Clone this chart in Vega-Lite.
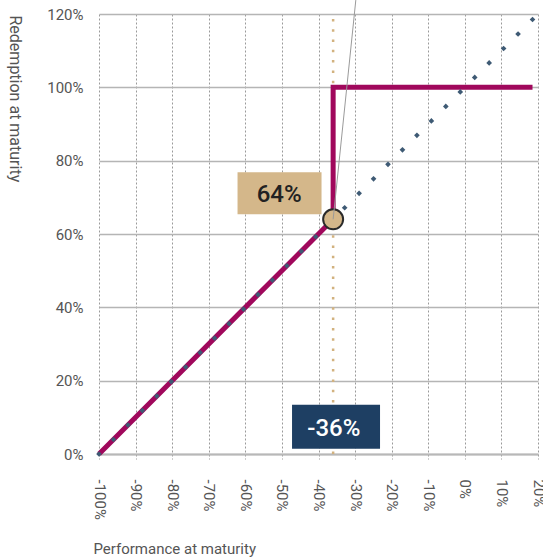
{
  "$schema": "https://vega.github.io/schema/vega-lite/v6.json",
  "width": 439,
  "height": 440,
  "autosize": {"type": "none"},
  "padding": {"left": 99, "top": 14, "right": 5, "bottom": 104},
  "config": {"view": {"stroke": null}, "font": "Roboto"},
  "resolve": {"axis": {"x": "independent"}},
  "datasets": {
    "tracker": [
      {"x": -100, "y": 0}, {"x": -96.05, "y": 3.95}, {"x": -92.1, "y": 7.9}, {"x": -88.15, "y": 11.85},
      {"x": -84.2, "y": 15.8}, {"x": -80.25, "y": 19.75}, {"x": -76.3, "y": 23.7}, {"x": -72.35, "y": 27.65},
      {"x": -68.4, "y": 31.6}, {"x": -64.45, "y": 35.55}, {"x": -60.5, "y": 39.5}, {"x": -56.55, "y": 43.45},
      {"x": -52.6, "y": 47.4}, {"x": -48.65, "y": 51.35}, {"x": -44.7, "y": 55.3}, {"x": -40.75, "y": 59.25},
      {"x": -36.8, "y": 63.2}, {"x": -32.85, "y": 67.15}, {"x": -28.9, "y": 71.1}, {"x": -24.95, "y": 75.05},
      {"x": -21, "y": 79}, {"x": -17.05, "y": 82.95}, {"x": -13.1, "y": 86.9}, {"x": -9.15, "y": 90.85},
      {"x": -5.2, "y": 94.8}, {"x": -1.25, "y": 98.75}, {"x": 2.7, "y": 102.7}, {"x": 6.65, "y": 106.65},
      {"x": 10.6, "y": 110.6}, {"x": 14.55, "y": 114.55}, {"x": 18.5, "y": 118.5}
    ],
    "payoff": [
      {"step": 1, "x": -100, "y": 0},
      {"step": 2, "x": -36, "y": 64},
      {"step": 3, "x": -36, "y": 100},
      {"step": 4, "x": 18.5, "y": 100}
    ],
    "barrier": [{"x": -36, "y": 64}],
    "leader": [{"x": -36, "y": 64, "x2": -29.8, "y2": 123.8}]
  },
  "encoding": {
    "x": {
      "field": "x", "type": "quantitative",
      "scale": {"domain": [-100, 20], "nice": false, "zero": false},
      "axis": null
    },
    "y": {
      "field": "y", "type": "quantitative",
      "scale": {"domain": [0, 120], "nice": false},
      "axis": {
        "values": [0, 20, 40, 60, 80, 100, 120],
        "labelExpr": "datum.value + '%'",
        "grid": true, "gridColor": "#b5b5b5", "gridWidth": 1.5,
        "domain": false, "ticks": false,
        "labelPadding": 16, "labelFontSize": 15, "labelColor": "#555555",
        "title": "Redemption at maturity", "titleFontSize": 16, "titleFontWeight": "normal",
        "titleColor": "#555555", "titleAngle": 90, "titleX": -85, "titleY": 1,
        "titleAlign": "left", "titleBaseline": "middle"
      }
    }
  },
  "layer": [
    {
      "data": {"name": "barrier"},
      "mark": {"type": "rule", "color": "#d2b27f", "strokeWidth": 2.5, "strokeDash": [2.5, 7.8]},
      "encoding": {
        "x": {
          "field": "x", "type": "quantitative",
          "scale": {"domain": [-100, 20], "nice": false, "zero": false},
          "axis": {
            "orient": "bottom",
            "values": [-100, -90, -80, -70, -60, -50, -40, -30, -20, -10, 0, 10, 20],
            "labelExpr": "(datum.value + 100) % 20 == 0 ? datum.value + '%' : ''",
            "grid": true, "gridDash": [2, 2], "gridColor": "#9a9a9a", "gridWidth": 1,
            "domain": true, "domainColor": "#b8b8b8", "domainWidth": 2,
            "ticks": true, "tickDash": [2, 2], "tickColor": "#9a9a9a", "tickSize": 5,
            "labelAngle": 90, "labelPadding": 20, "labelFontSize": 15, "labelColor": "#555555",
            "labelFlush": false,
            "title": "Performance at maturity", "titleFontSize": 15, "titleFontWeight": "normal",
            "titleColor": "#555555", "titleX": -6, "titleY": 99, "titleAlign": "left", "titleBaseline": "alphabetic"
          }
        },
        "y": {"datum": 0, "type": "quantitative"},
        "y2": {"datum": 120}
      }
    },
    {
      "data": {"values": [{"label": "64%", "x": -36, "y": 64}]},
      "layer": [
        {
          "mark": {"type": "rect", "color": "#d4b78a", "width": 84, "height": 42, "xOffset": -53.6, "yOffset": -26}
        },
        {
          "mark": {"type": "text", "color": "#222222", "fontSize": 24, "fontWeight": 500, "align": "center", "baseline": "middle", "xOffset": -54, "yOffset": -24},
          "encoding": {"text": {"field": "label"}}
        }
      ]
    },
    {
      "data": {"values": [{"label": "-36%", "x": -36, "y": 0}]},
      "layer": [
        {
          "mark": {"type": "rect", "color": "#1e3f63", "width": 88, "height": 44, "xOffset": 2.9, "yOffset": -27.3}
        },
        {
          "mark": {"type": "text", "color": "#ffffff", "fontSize": 24, "fontWeight": 500, "align": "center", "baseline": "middle", "xOffset": 0.7, "yOffset": -25},
          "encoding": {"text": {"field": "label"}}
        }
      ]
    },
    {
      "data": {"name": "payoff"},
      "mark": {"type": "line", "color": "#a0085c", "strokeWidth": 5, "strokeJoin": "miter", "strokeCap": "butt"},
      "encoding": {
        "order": {"field": "step", "type": "quantitative"}
      }
    },
    {
      "data": {"name": "tracker"},
      "mark": {"type": "point", "shape": "diamond", "filled": true, "size": 32, "color": "#3e5a74", "opacity": 1},
      "encoding": {
        "x": {
          "field": "x", "type": "quantitative",
          "scale": {"domain": [-100, 20], "nice": false, "zero": false},
          "axis": {
            "orient": "bottom",
            "values": [-90, -70, -50, -30, -10, 10],
            "labelExpr": "datum.value + '%'",
            "grid": false, "domain": false, "ticks": false,
            "labelAngle": 90, "labelPadding": 25, "labelFontSize": 15, "labelColor": "#555555",
            "labelFlush": false,
            "title": null
          }
        }
      }
    },
    {
      "data": {"name": "barrier"},
      "mark": {"type": "point", "shape": "circle", "filled": true, "size": 400, "fill": "#d4b78a", "stroke": "#2a2a2a", "strokeWidth": 2, "opacity": 1}
    },
    {
      "data": {"name": "leader"},
      "mark": {"type": "rule", "color": "#9a9a9a", "strokeWidth": 1, "clip": false},
      "encoding": {
        "x2": {"field": "x2"},
        "y2": {"field": "y2"}
      }
    }
  ]
}
